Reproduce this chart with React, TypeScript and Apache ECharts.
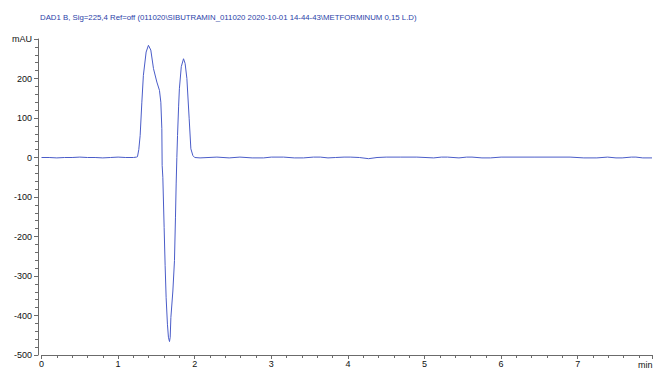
import React, { useEffect, useRef } from "react";
import * as echarts from "echarts";

const titleText =
  "DAD1 B, Sig=225,4 Ref=off (011020\\SIBUTRAMIN_011020 2020-10-01 14-44-43\\METFORMINUM 0,15 L.D)";

const timesMin = [
  0, 0.1, 0.2, 0.3, 0.4, 0.5, 0.6, 0.7, 0.8, 0.9, 1.0, 1.1, 1.2, 1.24,
  1.253, 1.27, 1.288, 1.31, 1.33, 1.366, 1.396, 1.427, 1.462, 1.506, 1.54,
  1.558, 1.571, 1.575, 1.584, 1.601, 1.614, 1.627, 1.644, 1.657, 1.671,
  1.68, 1.689, 1.715, 1.736, 1.749, 1.758, 1.767, 1.776, 1.79, 1.80, 1.825,
  1.854, 1.875, 1.898, 1.928, 1.95, 1.976, 2.0, 2.07, 2.29, 2.45, 2.59,
  2.75, 2.9, 3.0, 3.16, 3.3, 3.42, 3.55, 3.64, 3.74, 3.84, 3.95, 4.03,
  4.15, 4.27, 4.38, 4.5, 4.69, 4.9, 5.12, 5.22, 5.3, 5.45, 5.55, 5.62,
  5.75, 5.86, 6.0, 6.43, 6.9, 7.08, 7.25, 7.39, 7.5, 7.58, 7.7, 7.76, 7.85,
  7.97,
];

const signalMAU = [
  0, 0, -1, 0, 0, 1, 0, 0, -1, 0, 1, 0, 0, 1,
  2, 20, 56, 140, 208, 267, 284, 272, 225, 191, 170,
  140, 73, -20, -50, -177, -274, -355, -422, -455, -466,
  -455, -405, -338, -261, -151, -67, 0, 56, 130, 174, 230,
  250, 238, 200, 98, 22, 5, 0, -1, 1, -1, 1,
  -1, -1, 1, 1, -1, -1, 1, 1, -1, 0, 1, 1,
  0, -3, 0, 1, 1, 1, -1, 1, 1, -1, 1, 1,
  -1, -1, 1, 1, 1, -1, -1, 1, -1, -1, 1, 1, -1,
  -1,
];

const yTickTopLabel = "mAU";
const xUnitLabel = "min";

export default function App() {
  const ref = useRef<HTMLDivElement>(null);

  useEffect(() => {
    if (!ref.current) return;
    const chart = echarts.init(ref.current, undefined, { renderer: "svg" });
    const data = timesMin.map((t, i) => [t, signalMAU[i]]);
    const axisColor = "#6b6b6b";
    const labelStyle = {
      color: "#111",
      fontFamily: "Liberation Sans, Arial, sans-serif",
      fontSize: 9,
    };
    chart.setOption({
      animation: false,
      backgroundColor: "#ffffff",
      grid: { left: 41.5, right: 5, top: 39, bottom: 15 },
      graphic: [
        {
          type: "text",
          left: 40,
          top: 13,
          style: {
            text: titleText,
            fill: "#2b3fa8",
            font: "7.8px Liberation Sans, Arial, sans-serif",
          },
        },
        {
          type: "text",
          left: 638,
          top: 360,
          style: {
            text: xUnitLabel,
            fill: "#111",
            font: "9px Liberation Sans, Arial, sans-serif",
          },
        },
      ],
      xAxis: {
        type: "value",
        min: 0,
        max: 7.97,
        interval: 1,
        splitLine: { show: false },
        axisLine: { show: true, onZero: false, lineStyle: { color: axisColor, width: 1 } },
        axisTick: { show: true, inside: false, length: 4, lineStyle: { color: axisColor } },
        minorTick: { show: true, splitNumber: 5, length: 3, lineStyle: { color: axisColor } },
        axisLabel: { ...labelStyle, margin: 4, showMaxLabel: false },
      },
      yAxis: {
        type: "value",
        min: -500,
        max: 300,
        interval: 100,
        offset: 3.5,
        splitLine: { show: false },
        axisLine: { show: true, onZero: false, lineStyle: { color: axisColor, width: 1 } },
        axisTick: { show: true, inside: false, length: 4, lineStyle: { color: axisColor } },
        minorTick: { show: true, splitNumber: 5, length: 3, lineStyle: { color: axisColor } },
        axisLabel: {
          ...labelStyle,
          margin: 6,
          formatter: (v: number) => (v === 300 ? yTickTopLabel : String(v)),
        },
      },
      series: [
        {
          type: "line",
          data,
          showSymbol: false,
          symbol: "none",
          lineStyle: { color: "#4a5cc8", width: 1 },
          smooth: false,
        },
      ],
    });
    return () => chart.dispose();
  }, []);

  return <div ref={ref} style={{ width: 657, height: 370, position: "absolute", left: 0, top: 0 }} />;
}
